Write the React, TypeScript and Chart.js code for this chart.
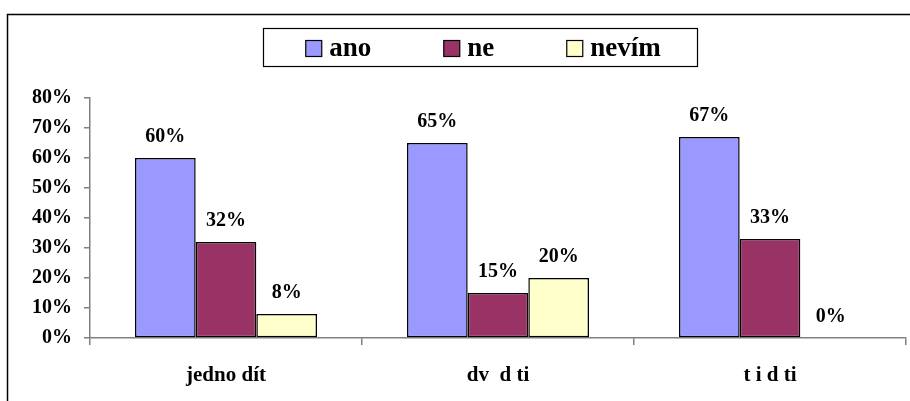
import React, { useEffect, useRef } from "react";
import { Chart, registerables } from "chart.js";

Chart.register(...registerables);

const categories = ["jedno dít", "dv  d ti", "t i d ti"];
const seriesNames = ["ano", "ne", "nevím"];
const anoValues = [60, 65, 67];
const neValues = [32, 15, 33];
const nevimValues = [8, 20, 0];
const seriesColors = ["#9999FF", "#993366", "#FFFFCC"];
const yMin = 0;
const yMax = 80;
const yStep = 10;

const FONT = "'Liberation Serif', 'Times New Roman', serif";

const decorPlugin = {
  id: "decor",
  beforeDraw(chart: any) {
    const ctx = chart.ctx;
    ctx.save();
    ctx.fillStyle = "#ffffff";
    ctx.fillRect(0, 0, chart.width, chart.height);
    // outer frame
    ctx.strokeStyle = "#000000";
    ctx.lineWidth = 1.5;
    ctx.strokeRect(7.5, 14.5, 1000, 1000);
    // legend frame
    ctx.lineWidth = 1.2;
    ctx.strokeRect(263.5, 28.5, 434, 38);
    // legend items
    ctx.font = `bold 27px ${FONT}`;
    ctx.textBaseline = "middle";
    ctx.textAlign = "left";
    const datasets = chart.data.datasets;
    const box = 16;
    const textGap = 8;
    const itemGap = 72;
    const widths = datasets.map((d: any) => box + textGap + ctx.measureText(d.label).width);
    const total = widths.reduce((a: number, b: number) => a + b, 0) + itemGap * (datasets.length - 1);
    let x = 483 - total / 2;
    const cy = 48;
    datasets.forEach((d: any, i: number) => {
      ctx.fillStyle = d.backgroundColor;
      ctx.fillRect(x + 0.5, cy - box / 2 + 0.5, box, box);
      ctx.strokeStyle = "#000";
      ctx.lineWidth = 1.2;
      ctx.strokeRect(x + 0.5, cy - box / 2 + 0.5, box, box);
      ctx.fillStyle = "#000";
      ctx.fillText(d.label, x + box + textGap, cy + 1);
      x += widths[i] + itemGap;
    });
    ctx.restore();
  },
  afterDatasetsDraw(chart: any) {
    const ctx = chart.ctx;
    ctx.save();
    ctx.font = `bold 20px ${FONT}`;
    ctx.fillStyle = "#000";
    ctx.textAlign = "center";
    ctx.textBaseline = "alphabetic";
    chart.data.datasets.forEach((ds: any, i: number) => {
      const meta = chart.getDatasetMeta(i);
      meta.data.forEach((bar: any, j: number) => {
        ctx.fillText(ds.data[j] + "%", bar.x, bar.y - 16);
      });
    });
    ctx.restore();
  },
};

export default function App() {
  const ref = useRef<HTMLCanvasElement | null>(null);
  useEffect(() => {
    if (!ref.current) return;
    const values = [anoValues, neValues, nevimValues];
    const chart = new Chart(ref.current, {
      type: "bar",
      data: {
        labels: categories,
        datasets: seriesNames.map((name, i) => ({
          label: name,
          data: values[i],
          backgroundColor: seriesColors[i],
          borderColor: "#000000",
          borderWidth: 1.5,
          borderSkipped: false,
          categoryPercentage: 0.669,
          barPercentage: 1,
        })),
      },
      options: {
        responsive: false,
        animation: false,
        devicePixelRatio: 1,
        layout: { padding: { top: 98, right: 4, left: 0, bottom: 0 } },
        plugins: { legend: { display: false }, tooltip: { enabled: false } },
        scales: {
          x: {
            offset: true,
            grid: { offset: true, drawOnChartArea: false, drawTicks: true, tickLength: 7, color: "#808080", lineWidth: 1.5 },
            border: { color: "#808080", width: 1.5 },
            ticks: {
              color: "#000",
              font: { family: FONT, weight: "bold", size: 21 },
              padding: 18,
              maxRotation: 0,
            },
            afterFit: (s: any) => {
              s.height = 63;
            },
          },
          y: {
            min: yMin,
            max: yMax,
            grid: { drawOnChartArea: false, drawTicks: true, tickLength: 6, color: "#808080", lineWidth: 1.5 },
            border: { color: "#808080", width: 1.5 },
            ticks: {
              stepSize: yStep,
              color: "#000",
              font: { family: FONT, weight: "bold", size: 20 },
              padding: 12,
              callback: (v: any) => v + "%",
            },
            afterFit: (s: any) => {
              s.width = 90;
            },
          },
        },
      },
      plugins: [decorPlugin],
    });
    return () => chart.destroy();
  }, []);
  return (
    <div style={{ position: "fixed", left: 0, top: 0, width: 910, height: 401, background: "#fff" }}>
      <canvas ref={ref} width={910} height={401} style={{ display: "block" }} />
    </div>
  );
}
